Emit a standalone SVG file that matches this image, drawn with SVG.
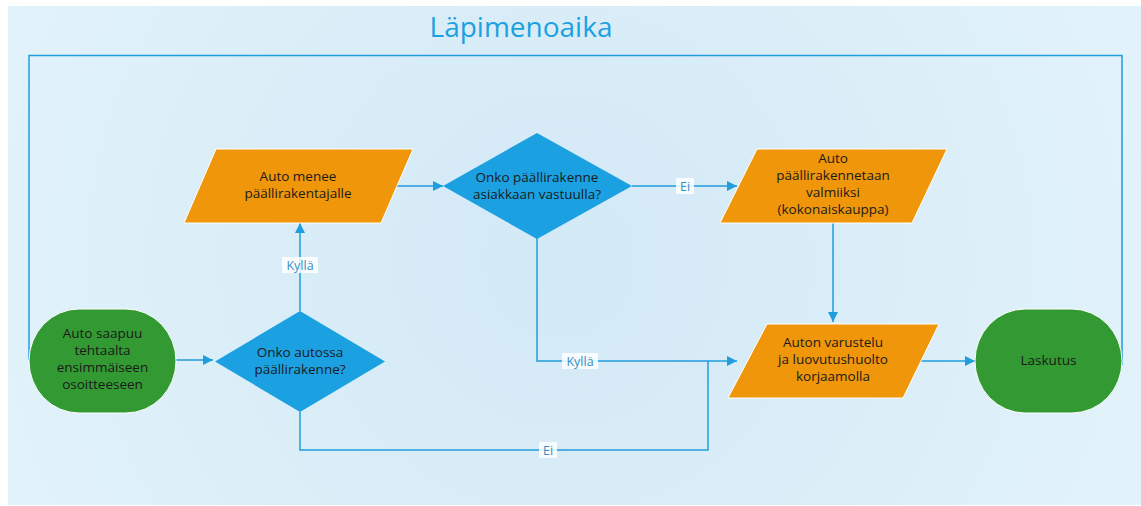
<svg xmlns="http://www.w3.org/2000/svg" width="1141" height="506" viewBox="0 0 1141 506">
<defs>
<radialGradient id="bg" cx="560" cy="260" r="600" gradientUnits="userSpaceOnUse">
<stop offset="0" stop-color="#d3e9f6"/>
<stop offset="1" stop-color="#e1f2fa"/>
</radialGradient>
<marker id="arr" viewBox="0 0 10 10" refX="10" refY="5" markerWidth="10" markerHeight="10" markerUnits="userSpaceOnUse" orient="auto">
<path d="M0,0 L10,5 L0,10 z" fill="#1f9ddc"/>
</marker>
<style>
.conn{fill:none;stroke:#1f9ddc;stroke-width:1.5}
.term{fill:#339933;stroke:#ffffff;stroke-width:1}
.proc{fill:#ef960b;stroke:#ffffff;stroke-width:1}
.dec{fill:#1ba1e2;stroke:none}
.t{font-family:"Open Sans","Noto Sans",sans-serif;font-size:13.5px;fill:#1a1a1a;text-anchor:middle}
.lbl{font-family:"Open Sans","Noto Sans",sans-serif;font-size:12.5px;fill:#3a8ec0;text-anchor:middle}
.lblbg{fill:#ffffff;fill-opacity:0.85}
</style>
</defs>
<rect x="0" y="0" width="1141" height="506" fill="#ffffff"/>
<rect x="8" y="6" width="1133" height="499" fill="url(#bg)"/>
<text x="521" y="37" font-family="Open Sans,Noto Sans,sans-serif" font-size="28" fill="#1ba1e2" text-anchor="middle">Läpimenoaika</text>
<g id="connectors">
<path class="conn" d="M29,360 V55.5 H1122 V365"/>
<path class="conn" d="M176,360 H213" marker-end="url(#arr)"/>
<path class="conn" d="M300,311 V223" marker-end="url(#arr)"/>
<path class="conn" d="M396,186 H443" marker-end="url(#arr)"/>
<path class="conn" d="M632,186 H737" marker-end="url(#arr)"/>
<path class="conn" d="M833,223 V322" marker-end="url(#arr)"/>
<path class="conn" d="M537,238 V361 H737" marker-end="url(#arr)"/>
<path class="conn" d="M300,412 V450 H708 V361"/>
<path class="conn" d="M921,361 H975" marker-end="url(#arr)"/>
<rect class="lblbg" x="282" y="257" width="36" height="16"/>
<text class="lbl" x="300" y="270">Kyllä</text>
<rect class="lblbg" x="676" y="178" width="18" height="16"/>
<text class="lbl" x="685" y="191">Ei</text>
<rect class="lblbg" x="562" y="353" width="36" height="16"/>
<text class="lbl" x="580" y="366">Kyllä</text>
<rect class="lblbg" x="539" y="442" width="18" height="16"/>
<text class="lbl" x="548" y="455">Ei</text>
</g>
<g id="start">
<rect class="term" x="29" y="309" width="147" height="104" rx="50" ry="52"/>
<text class="t" x="102.5" y="338">Auto saapuu</text>
<text class="t" x="102.5" y="355">tehtaalta</text>
<text class="t" x="102.5" y="372">ensimmäiseen</text>
<text class="t" x="102.5" y="389">osoitteeseen</text>
</g>
<g id="dec1">
<polygon class="dec" points="300,311 385,361.5 300,412 215,361.5"/>
<text class="t" x="300" y="357">Onko autossa</text>
<text class="t" x="300" y="374">päällirakenne?</text>
</g>
<g id="proc1">
<polygon class="proc" points="216,149 413,149 381,223 184,223"/>
<text class="t" x="298" y="181">Auto menee</text>
<text class="t" x="298" y="198">päällirakentajalle</text>
</g>
<g id="dec2">
<polygon class="dec" points="537,133 632,186 537,239 443,186"/>
<text class="t" x="537" y="182">Onko päällirakenne</text>
<text class="t" x="537" y="199">asiakkaan vastuulla?</text>
</g>
<g id="proc2">
<polygon class="proc" points="757,149 947,149 912,223 720,223"/>
<text class="t" x="833" y="163">Auto</text>
<text class="t" x="833" y="180">päällirakennetaan</text>
<text class="t" x="833" y="197">valmiiksi</text>
<text class="t" x="833" y="214">(kokonaiskauppa)</text>
</g>
<g id="proc3">
<polygon class="proc" points="767,324 939,324 903,398 728,398"/>
<text class="t" x="833" y="347">Auton varustelu</text>
<text class="t" x="833" y="364">ja luovutushuolto</text>
<text class="t" x="833" y="381">korjaamolla</text>
</g>
<g id="end">
<rect class="term" x="975" y="309" width="147" height="104" rx="50" ry="52"/>
<text class="t" x="1048.5" y="365">Laskutus</text>
</g>
</svg>
